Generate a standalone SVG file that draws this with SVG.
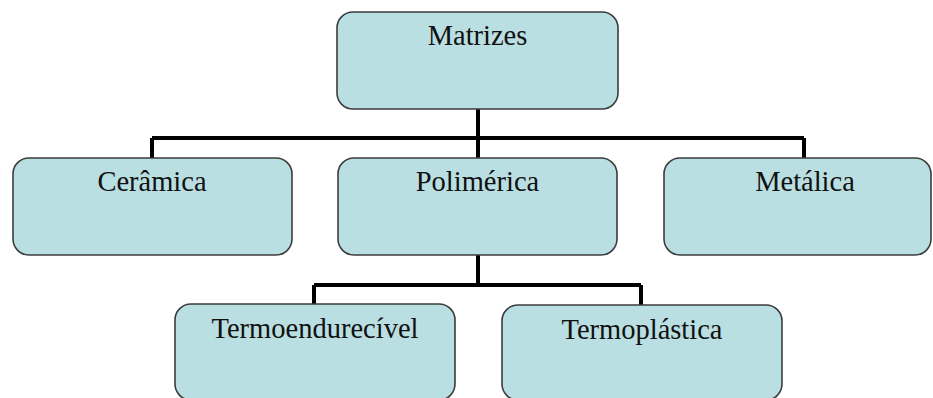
<svg xmlns="http://www.w3.org/2000/svg" width="933" height="398" viewBox="0 0 933 398">
<style>
.box{fill:#b9dfe2;stroke:#3c3c3c;stroke-width:1.6}
.lbl{font-family:"Liberation Serif","Times New Roman",serif;font-size:28.5px;fill:#111;text-anchor:middle}
.conn{fill:none;stroke:#000;stroke-width:4}
</style>
<rect width="933" height="398" fill="#fff"/>
<g id="connectors">
<path class="conn" d="M478,109 V158 M152,138 H804 M152,138 V158 M804,138 V158"/>
<path class="conn" d="M478,255 V285 M314,285 H641 M314,285 V304 M641,285 V305"/>
</g>
<g id="matrizes"><rect class="box" x="337" y="12" width="281" height="97" rx="16"/><text class="lbl" x="477.5" y="45">Matrizes</text></g>
<g id="ceramica"><rect class="box" x="13" y="158" width="279" height="97" rx="16"/><text class="lbl" x="152" y="191">Cerâmica</text></g>
<g id="polimerica"><rect class="box" x="338" y="158" width="279" height="97" rx="16"/><text class="lbl" x="477.5" y="191">Polimérica</text></g>
<g id="metalica"><rect class="box" x="664" y="158" width="267" height="97" rx="16"/><text class="lbl" x="805" y="191">Metálica</text></g>
<g id="termoendurecivel"><rect class="box" x="175" y="304" width="280" height="96" rx="16"/><text class="lbl" x="315" y="338">Termoendurecível</text></g>
<g id="termoplastica"><rect class="box" x="502" y="305" width="280" height="95" rx="16"/><text class="lbl" x="642" y="339">Termoplástica</text></g>
</svg>
